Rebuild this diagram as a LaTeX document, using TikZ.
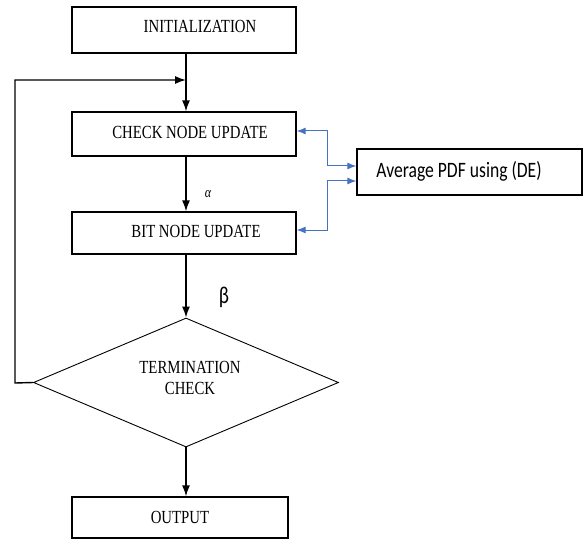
\documentclass[tikz,border=0pt]{standalone}
\usepackage{fontspec}
\usetikzlibrary{arrows.meta,shapes.geometric}
\newfontfamily\tnrfont[FakeStretch=0.8]{Liberation Serif}
\newfontfamily\calfont[FakeStretch=0.8]{Carlito}
\begin{document}
\begin{tikzpicture}[x=1pt,y=-1pt,
  boxnode/.style={draw=black,line width=1.3pt,rectangle,inner sep=0pt,minimum width=224pt},
  lbl/.style={anchor=base,inner sep=0pt,font=\tnrfont\fontsize{18.5}{21}\selectfont},
  flow/.style={line width=1.4pt,-{Latex[length=11pt,width=8pt]}},
  bluelink/.style={draw={rgb,255:red,68;green,114;blue,196},line width=1pt,{Latex[length=9pt,width=7pt]}-{Latex[length=9pt,width=7pt]}}
]
\useasboundingbox (0,0) rectangle (583,540);
% boxes
\node[boxnode,minimum height=46pt] (init) at (184,30) {};
\node[boxnode,minimum height=44pt] (check) at (184,134) {};
\node[boxnode,minimum height=42pt] (bit) at (184,233) {};
\node[boxnode,minimum width=216pt,minimum height=41pt] (out) at (180,517.5) {};
\node[boxnode,minimum width=225pt,minimum height=46pt] (avg) at (469.5,172) {};
\node[draw=black,line width=0.9pt,diamond,inner sep=0pt,minimum width=305pt,minimum height=129pt] (term) at (186,382.5) {};
% labels
\node[lbl] (tinit) at (200,33) {INITIALIZATION};
\node[lbl] (tcheck) at (190,139) {CHECK NODE UPDATE};
\node[lbl] (tbit) at (196,237) {BIT NODE UPDATE};
\node[lbl,align=center] (tterm) at (190,394) {TERMINATION\\CHECK};
\node[lbl] (tout) at (180,523) {OUTPUT};
\node[anchor=base,inner sep=0pt,font=\calfont\fontsize{22}{24}\selectfont] (tavg) at (459,178) {Average PDF using (DE)};
\node[anchor=base,inner sep=0pt,font=\tnrfont\itshape\fontsize{15}{17}\selectfont] (alpha) at (208,197) {α};
\node[anchor=base,inner sep=0pt,font=\calfont\fontsize{24}{26}\selectfont] (beta) at (224,303) {β};
% coordinates
\coordinate (j) at (term.north |- 0,80);
\coordinate (lt) at (15,80);
\coordinate (lb) at (15,383);
% main flow
\draw[line width=1.4pt] (init.south -| j) -- (j);
\draw[flow] (j) -- (check.north -| j);
\draw[flow] (check.south -| j) -- (bit.north -| j);
\draw[flow] (bit.south -| j) -- (term.north);
\draw[flow] (term.south) -- (out.north -| term.south);
\draw[flow] (term.west) -- (lb) -- (lt) -- (j);
% blue links
\coordinate (c1) at (296.7,131);
\coordinate (a1) at (356.5,166);
\coordinate (a2) at (356.5,181);
\coordinate (b1) at (296.7,230);
\draw[bluelink] (check.east |- c1) -- (327,131) -- (327,166) -- (avg.west |- a1);
\draw[bluelink] (avg.west |- a2) -- (327,181) -- (327,230) -- (bit.east |- b1);
\end{tikzpicture}
\end{document}
